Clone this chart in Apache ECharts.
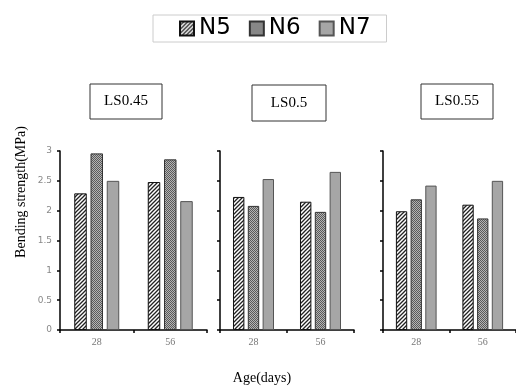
<!DOCTYPE html>
<html>
<head>
<meta charset="utf-8">
<script src="https://cdn.jsdelivr.net/npm/echarts@6/dist/echarts.min.js"></script>
<style>
  html, body { margin: 0; padding: 0; background: #fff; }
  #main { width: 516px; height: 391px; }
</style>
</head>
<body>
<div id="main"></div>
<script>
// data
const ages = ["28", "56"];
const panels = ["LS0.45", "LS0.5", "LS0.55"];
const seriesNames = ["N5", "N6", "N7"];
// values per panel, each [28 days, 56 days]
const n5 = [[2.29, 2.48], [2.23, 2.15], [1.99, 2.10]];
const n6 = [[2.96, 2.86], [2.08, 1.98], [2.19, 1.87]];
const n7 = [[2.50, 2.16], [2.53, 2.65], [2.42, 2.50]];
const yTicks = [0, 0.5, 1, 1.5, 2, 2.5, 3];

// fill patterns
function makePattern(kind) {
  const c = document.createElement("canvas");
  const ctx = c.getContext("2d");
  if (kind === "hatch") {
    c.width = 4; c.height = 4;
    ctx.fillStyle = "#fff";
    ctx.fillRect(0, 0, 4, 4);
    ctx.strokeStyle = "#222";
    ctx.lineWidth = 1.3;
    ctx.beginPath();
    ctx.moveTo(-1, 5); ctx.lineTo(5, -1);
    ctx.moveTo(-1, 1); ctx.lineTo(1, -1);
    ctx.moveTo(3, 5); ctx.lineTo(5, 3);
    ctx.stroke();
  } else {
    c.width = 2; c.height = 2;
    ctx.fillStyle = "#b4b4b4";
    ctx.fillRect(0, 0, 2, 2);
    ctx.fillStyle = "#5a5a5a";
    ctx.fillRect(0, 0, 1, 1);
    ctx.fillRect(1, 1, 1, 1);
  }
  return { image: c, repeat: "repeat" };
}
const fills = [makePattern("hatch"), makePattern("dots"), "#a6a6a6"];
const borders = ["#111", "#333", "#555"];
const dataSets = [n5, n6, n7];

const grids = [
  { left: 60, top: 151, width: 147, height: 179 },
  { left: 220, top: 151, width: 134, height: 179 },
  { left: 383, top: 151, width: 133, height: 179 }
];

const xAxes = grids.map((g, i) => ({
  type: "category",
  gridIndex: i,
  data: ages,
  axisLine: { lineStyle: { color: "#000", width: 1.5 } },
  axisTick: { show: true, length: 3, lineStyle: { color: "#000", width: 1.5 } },
  axisLabel: { color: "#777", fontFamily: "Liberation Serif", fontSize: 10, margin: 7 }
}));

const yAxes = grids.map((g, i) => ({
  type: "value",
  gridIndex: i,
  min: yTicks[0],
  max: yTicks[yTicks.length - 1],
  interval: 0.5,
  splitLine: { show: false },
  axisLine: { show: true, lineStyle: { color: "#000", width: 1.5 } },
  axisTick: { show: true, length: 3, lineStyle: { color: "#000", width: 1.5 } },
  axisLabel: {
    show: i === 0,
    color: "#888",
    fontFamily: "DejaVu Sans",
    fontSize: 9,
    margin: 8
  }
}));

const series = [];
panels.forEach((p, pi) => {
  seriesNames.forEach((name, si) => {
    series.push({
      name: name,
      type: "bar",
      xAxisIndex: pi,
      yAxisIndex: pi,
      data: dataSets[si][pi],
      barWidth: "17%",
      barGap: "30%",
      itemStyle: { color: fills[si], borderColor: borders[si], borderWidth: 1 }
    });
  });
});

const panelBoxes = [
  { x: 90, y: 84, w: 72, h: 35 },
  { x: 252, y: 85, w: 74, h: 36 },
  { x: 421, y: 84, w: 72, h: 35 }
];
const graphics = [];
panels.forEach((p, i) => {
  const b = panelBoxes[i];
  graphics.push({
    type: "rect",
    shape: { x: b.x, y: b.y, width: b.w, height: b.h },
    style: { fill: "#fff", stroke: "#333", lineWidth: 1 }
  });
  graphics.push({
    type: "text",
    x: b.x + b.w / 2,
    y: b.y + b.h / 2,
    style: {
      text: p, fill: "#000", font: "15px 'Liberation Serif'",
      textAlign: "center", textVerticalAlign: "middle"
    }
  });
});
graphics.push({
  type: "text",
  x: 21, y: 192,
  rotation: Math.PI / 2,
  style: {
    text: "Bending strength(MPa)", fill: "#000", font: "14px 'Liberation Serif'",
    textAlign: "center", textVerticalAlign: "middle"
  }
});
graphics.push({
  type: "text",
  x: 262, y: 378,
  style: {
    text: "Age(days)", fill: "#000", font: "14px 'Liberation Serif'",
    textAlign: "center", textVerticalAlign: "middle"
  }
});

const chart = echarts.init(document.getElementById("main"));
chart.setOption({
  animation: false,
  legend: {
    data: seriesNames,
    left: 153,
    top: 15,
    padding: [2, 16, 2, 26],
    borderColor: "#ccc",
    borderWidth: 1,
    itemWidth: 14,
    itemHeight: 14,
    itemGap: 18,
    icon: "rect",
    textStyle: { fontSize: 23, color: "#000", fontFamily: "DejaVu Sans" }
  },
  grid: grids,
  xAxis: xAxes,
  yAxis: yAxes,
  series: series,
  graphic: graphics
});
</script>
</body>
</html>
